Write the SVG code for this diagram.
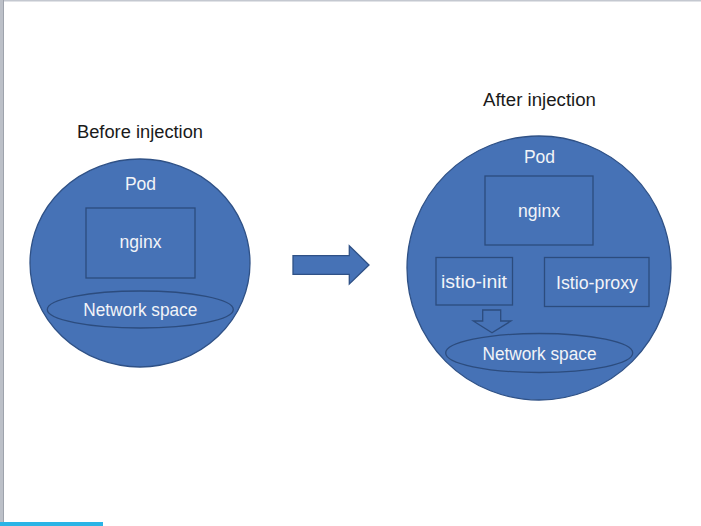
<svg xmlns="http://www.w3.org/2000/svg" width="701" height="526" viewBox="0 0 701 526">
<style>
.pod{fill:#4672B6;stroke:#2F5186;stroke-width:1.3}
.box{fill:none;stroke:#2C4C7E;stroke-width:1.3}
.lbl{font-family:"Liberation Sans",Arial,sans-serif;font-size:17.5px;fill:#F2F4F8;text-anchor:middle}
.title{font-family:"Liberation Sans",Arial,sans-serif;font-size:18px;fill:#1A1A1A;text-anchor:middle}
</style>
<rect x="0" y="0" width="701" height="526" fill="#FFFFFF"/>
<rect x="0" y="0" width="701" height="1.5" fill="#C4C8D0"/>
<rect x="0" y="0" width="4" height="526" fill="#BCC0C8"/>
<rect x="3" y="0" width="1" height="526" fill="#9EA3AC"/>
<rect x="0" y="522" width="103" height="4" fill="#2AB4E6"/>

<text class="title" x="140" y="138" textLength="126" lengthAdjust="spacingAndGlyphs">Before injection</text>
<text class="title" x="539.5" y="106" textLength="113" lengthAdjust="spacingAndGlyphs">After injection</text>

<g id="pod-before">
<ellipse class="pod" cx="140" cy="263" rx="110" ry="104"/>
<text class="lbl" x="140.5" y="190">Pod</text>
</g>
<g id="nginx-before">
<rect class="box" x="86" y="208" width="109" height="70"/>
<text class="lbl" x="140.5" y="248" textLength="42" lengthAdjust="spacingAndGlyphs">nginx</text>
</g>
<g id="network-before">
<ellipse class="box" cx="140.3" cy="309.5" rx="93" ry="18.5"/>
<text class="lbl" x="140.3" y="315.5" textLength="114" lengthAdjust="spacingAndGlyphs">Network space</text>
</g>

<g id="pod-after">
<circle class="pod" cx="539" cy="268" r="132"/>
<text class="lbl" x="539.5" y="163">Pod</text>
</g>
<g id="nginx-after">
<rect class="box" x="485" y="176" width="108" height="69"/>
<text class="lbl" x="539" y="217" textLength="42" lengthAdjust="spacingAndGlyphs">nginx</text>
</g>
<g id="istio-init">
<rect class="box" x="436" y="257.5" width="76.5" height="47.5"/>
<text class="lbl" x="474" y="288" textLength="66" lengthAdjust="spacingAndGlyphs">istio-init</text>
</g>
<g id="istio-proxy">
<rect class="box" x="544.5" y="257.5" width="104.5" height="49"/>
<text class="lbl" x="597" y="288.5" textLength="82" lengthAdjust="spacingAndGlyphs">Istio-proxy</text>
</g>
<g id="network-after">
<ellipse class="box" cx="539.2" cy="353" rx="93.5" ry="19.5"/>
<text class="lbl" x="539.5" y="359.5" textLength="114" lengthAdjust="spacingAndGlyphs">Network space</text>
</g>

<g id="connectors">
<polygon points="293,255.7 349.3,255.7 349.3,245.7 369,265 349.3,284 349.3,274.3 293,274.3" fill="#4672B6" stroke="#2F5186" stroke-width="1.3"/>
<polygon points="482.7,310 500.7,310 500.7,321 511,321 492,332.7 473.3,321 482.7,321" fill="#4672B6" stroke="#2C4C7E" stroke-width="1.3"/>
</g>
</svg>
